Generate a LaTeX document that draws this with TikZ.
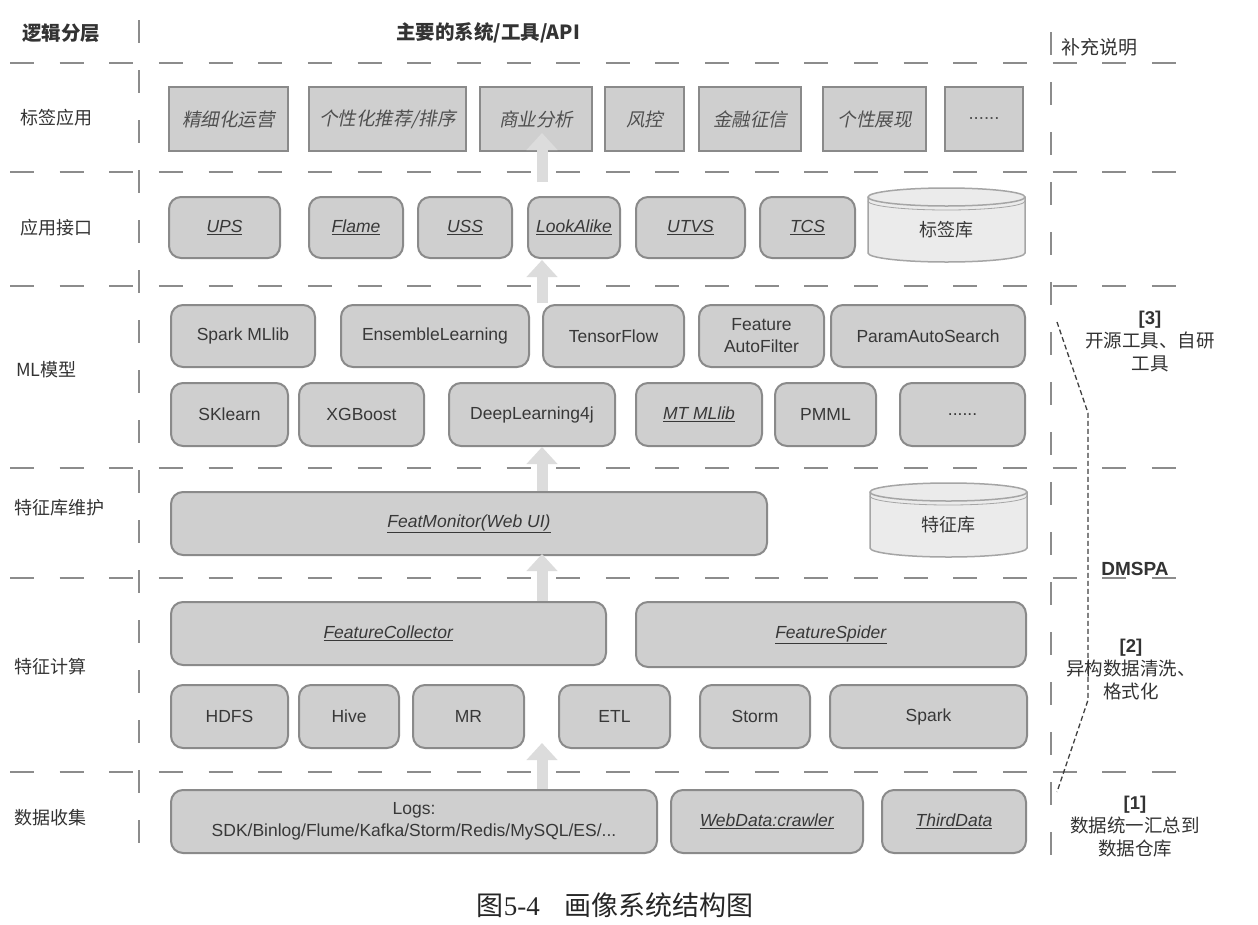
\documentclass[tikz,border=0pt]{standalone}
\usepackage{fontspec}
\setmainfont{Liberation Sans}
\newfontfamily\cjk{Noto Sans CJK SC}
\newfontfamily\cjkit[FakeSlant=0.2]{Noto Sans CJK SC}
\newfontfamily\capserif{Liberation Serif}
\usetikzlibrary{arrows.meta}
\definecolor{boxfill}{HTML}{CFCFCF}
\definecolor{boxline}{HTML}{8A8A8A}
\definecolor{boxtext}{HTML}{383838}
\definecolor{tagtext}{HTML}{505050}
\definecolor{dashcol}{HTML}{8C8C8C}
\definecolor{arrowcol}{HTML}{DCDCDC}
\definecolor{cylfill}{HTML}{EBEBEB}
\definecolor{cylline}{HTML}{A5A5A5}
\definecolor{labtext}{HTML}{333333}
\newcommand\mybox[7]{%
  \node[#1, minimum width={(#5-#3)*1pt}, minimum height={(#6-#4)*1pt}] (#2) at ({(#3+#5)/2},{(#4+#6)/2}) {#7};%
}
\newcommand\mycyl[6]{%
  \draw[cylstyle] (#2,#3+9) -- (#2,#5-9) arc[start angle=180, end angle=0, x radius={(#4-#2)/2}, y radius=9] -- (#4,#3+9) arc[start angle=0, end angle=-180, x radius={(#4-#2)/2}, y radius=9] -- cycle;
  \draw[cylstyle] (#2,#3+9) arc[start angle=180, end angle=0, x radius={(#4-#2)/2}, y radius=9];
  \draw[cylline, line width=0.8pt] (#2,#3+13) arc[start angle=180, end angle=0, x radius={(#4-#2)/2}, y radius=9];
  \node[cyltext] (#1) at ({(#2+#4)/2},{(#3+#5)/2+5}) {#6};%
}
\begin{document}
\begin{tikzpicture}[x=1pt,y=-1pt,
  base/.style={draw=boxline, line width=2pt, fill=boxfill, text=boxtext, inner sep=0pt, outer sep=0pt, align=center, font=\fontsize{17.5}{22}\selectfont},
  rbox/.style={base, rounded corners=12pt},
  tagbox/.style={base, text=tagtext, font=\cjkit\fontsize{18.5}{22}\selectfont},
  lab/.style={anchor=west, inner sep=0pt, text=labtext, font=\cjk\fontsize{18}{22}\selectfont},
  hdr/.style={inner sep=0pt, text=labtext, font=\cjk\bfseries\fontsize{19.5}{23}\selectfont},
  note/.style={inner sep=0pt, align=center, text=labtext, font=\cjk\fontsize{18.5}{23}\selectfont},
  cylstyle/.style={draw=cylline, line width=1.5pt, fill=cylfill},
  cyltext/.style={inner sep=0pt, text=boxtext, font=\cjk\fontsize{18}{22}\selectfont},
  hdash/.style={draw=dashcol, line width=2.4pt, dash pattern=on 24pt off 25.65pt},
  vdash/.style={draw=dashcol, line width=2.4pt, dash pattern=on 23pt off 27pt},
  bracketline/.style={draw=black!75, line width=1.3pt, dash pattern=on 5pt off 3pt},
  bigarrow/.style={draw=arrowcol, line width=11pt, -{Triangle[width=30pt,length=17pt]}},
]
\useasboundingbox (0,0) rectangle (1258,924);
\fill[white] (0,0) rectangle (1258,924);

% dashed grid
\foreach \yy in {63,172,286,468,578,772} {\draw[hdash] (10,\yy) -- (1178,\yy);}
\draw[vdash] (139,20) -- (139,843);
\draw[vdash] (1051,32) -- (1051,855);

% header
\node[hdr, anchor=west] (hlayer) at (22,33) {逻辑分层};
\node[hdr] (hsys) at (488,33) {主要的系统/工具/API};
\node[lab, font=\cjk\fontsize{19}{23}\selectfont] (hnote) at (1061,47) {补充说明};

% left labels
\node[lab] (l1) at (20,118) {标签应用};
\node[lab] (l2) at (20,228) {应用接口};
\node[lab] (l3) at (16,370) {ML模型};
\node[lab] (l4) at (14,508) {特征库维护};
\node[lab] (l5) at (14,667) {特征计算};
\node[lab] (l6) at (14,818) {数据收集};

% row: tag applications
\mybox{tagbox}{t1}{169}{87}{288}{151}{精细化运营}
\mybox{tagbox}{t2}{309}{87}{466}{151}{个性化推荐/排序}
\mybox{tagbox}{t3}{480}{87}{592}{151}{商业分析}
\mybox{tagbox}{t4}{605}{87}{684}{151}{风控}
\mybox{tagbox}{t5}{699}{87}{801}{151}{金融征信}
\mybox{tagbox}{t6}{823}{87}{926}{151}{个性展现}
\mybox{tagbox}{t7}{945}{87}{1023}{151}{\rmfamily ......}

% row: application interfaces
\mybox{rbox}{a1}{169}{197}{280}{258}{\underline{\textit{UPS}}}
\mybox{rbox}{a2}{309}{197}{403}{258}{\underline{\textit{Flame}}}
\mybox{rbox}{a3}{418}{197}{512}{258}{\underline{\textit{USS}}}
\mybox{rbox}{a4}{528}{197}{620}{258}{\underline{\textit{LookAlike}}}
\mybox{rbox}{a5}{636}{197}{745}{258}{\underline{\textit{UTVS}}}
\mybox{rbox}{a6}{760}{197}{855}{258}{\underline{\textit{TCS}}}
\mycyl{tagdb}{868}{188}{1025}{262}{标签库}

% row: ML models
\mybox{rbox}{m1}{171}{305}{315}{367}{Spark MLlib}
\mybox{rbox}{m2}{341}{305}{529}{367}{EnsembleLearning}
\mybox{rbox}{m3}{543}{305}{684}{367}{TensorFlow}
\mybox{rbox}{m4}{699}{305}{824}{367}{Feature\\AutoFilter}
\mybox{rbox}{m5}{831}{305}{1025}{367}{ParamAutoSearch}
\mybox{rbox}{m6}{171}{383}{288}{446}{SKlearn}
\mybox{rbox}{m7}{299}{383}{424}{446}{XGBoost}
\mybox{rbox}{m8}{449}{383}{615}{446}{DeepLearning4j}
\mybox{rbox}{m9}{636}{383}{762}{446}{\underline{\textit{MT MLlib}}}
\mybox{rbox}{m10}{775}{383}{876}{446}{PMML}
\mybox{rbox}{m11}{900}{383}{1025}{446}{......}

% feature store maintenance
\mybox{rbox}{fm}{171}{492}{767}{555}{\underline{\textit{FeatMonitor(Web UI)}}}
\mycyl{featdb}{870}{483}{1027}{557}{特征库}

% feature computation
\mybox{rbox}{fc}{171}{602}{606}{665}{\underline{\textit{FeatureCollector}}}
\mybox{rbox}{fs}{636}{602}{1026}{667}{\underline{\textit{FeatureSpider}}}
\mybox{rbox}{c1}{171}{685}{288}{748}{HDFS}
\mybox{rbox}{c2}{299}{685}{399}{748}{Hive}
\mybox{rbox}{c3}{413}{685}{524}{748}{MR}
\mybox{rbox}{c4}{559}{685}{670}{748}{ETL}
\mybox{rbox}{c5}{700}{685}{810}{748}{Storm}
\mybox{rbox}{c6}{830}{685}{1027}{748}{Spark}

% data collection
\mybox{rbox}{d1}{171}{790}{657}{853}{Logs:\\SDK/Binlog/Flume/Kafka/Storm/Redis/MySQL/ES/...}
\mybox{rbox}{d2}{671}{790}{863}{853}{\underline{\textit{WebData:crawler}}}
\mybox{rbox}{d3}{882}{790}{1026}{853}{\underline{\textit{ThirdData}}}

% right-hand notes
\coordinate (b1) at (1057,322);
\coordinate (b2) at (1088,413);
\coordinate (b3) at (1088,700);
\coordinate (b4) at (1057,792);
\draw[bracketline] (b1) -- (b2) -- (b3) -- (b4);
\node[note] (n3) at (1150,342) {{\rmfamily\bfseries [3]}\\开源工具、自研\\工具};
\node[note, font=\rmfamily\bfseries\fontsize{19}{23}\selectfont] (ndm) at (1135,569) {DMSPA};
\node[note] (n2) at (1131,670) {{\rmfamily\bfseries [2]}\\异构数据清洗、\\格式化};
\node[note] (n1) at (1135,827) {{\rmfamily\bfseries [1]}\\数据统一汇总到\\数据仓库};

% flow arrows
\coordinate (ar1s) at (542,182); \coordinate (ar1e) at (542,133);
\coordinate (ar2s) at (542,303); \coordinate (ar2e) at (542,260);
\coordinate (ar3s) at (542,491); \coordinate (ar3e) at (542,447);
\coordinate (ar4s) at (542,601); \coordinate (ar4e) at (542,554);
\coordinate (ar5s) at (542,789); \coordinate (ar5e) at (542,743);
\foreach \i in {1,...,5} {\draw[bigarrow] (ar\i s) -- (ar\i e);}

% caption
\node[inner sep=0pt, text=black!85, font=\fontsize{27}{30}\selectfont] (cap) at (615,905) {\cjk 图\capserif 5-4\hspace{0.9em}\cjk 画像系统结构图};
\end{tikzpicture}
\end{document}
